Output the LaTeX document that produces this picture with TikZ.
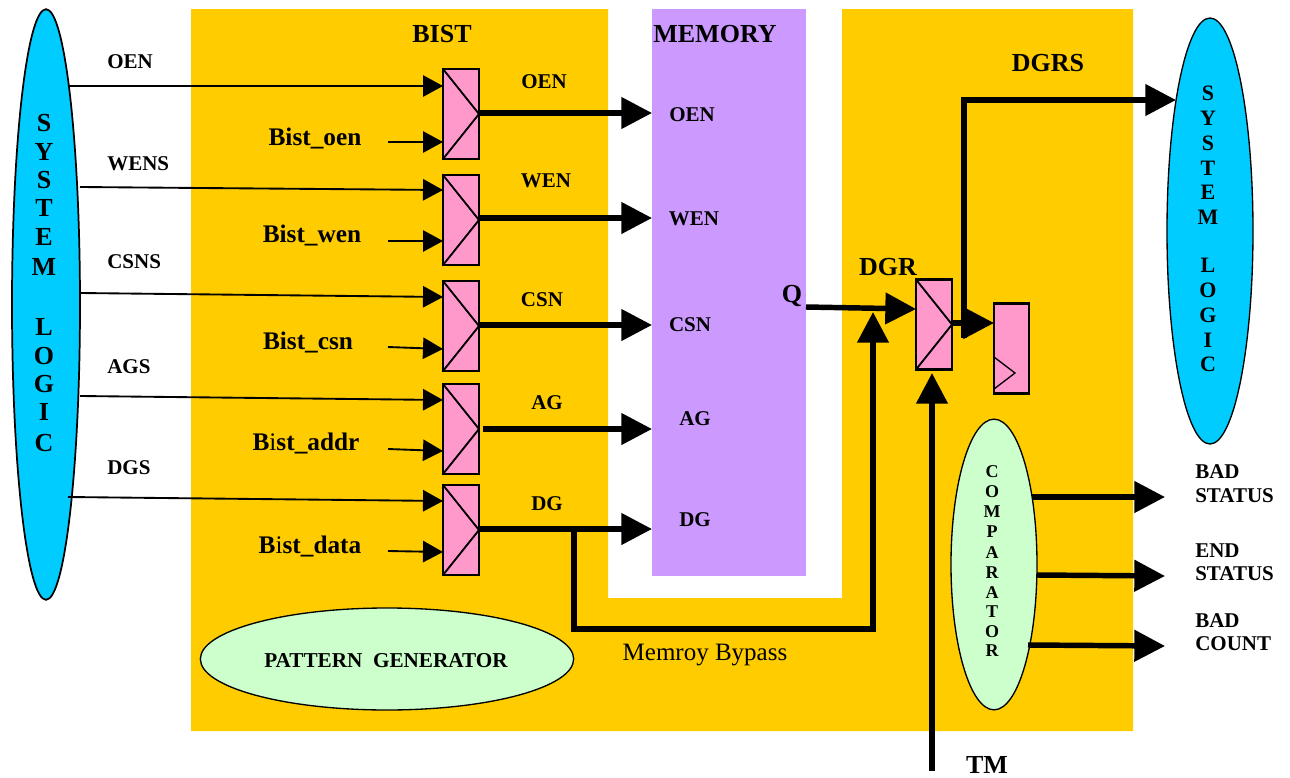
\documentclass[tikz,border=0pt]{standalone}
\usepackage{fontspec}
\setmainfont{Liberation Serif}
\usetikzlibrary{arrows.meta,shapes.geometric}
\definecolor{org}{RGB}{255,204,0}
\definecolor{purp}{RGB}{204,153,255}
\definecolor{cyanb}{RGB}{0,204,255}
\definecolor{pinkb}{RGB}{255,153,204}
\definecolor{mint}{RGB}{204,255,204}
\newcommand{\pxfont}[1]{\fontsize{\dimexpr #1pt*3/4\relax}{\dimexpr #1pt*9/10\relax}\selectfont}
\tikzset{
  mux/.style={draw=black,line width=1.6pt,fill=pinkb,minimum width=27pt,minimum height=67.5pt,inner sep=0,outer sep=0,
    path picture={\draw[line width=1.4pt] (path picture bounding box.north west)--(path picture bounding box.east)--(path picture bounding box.south west);}},
  ffbox/.style={draw=black,line width=1.6pt,fill=pinkb,minimum width=26pt,minimum height=67.5pt,inner sep=0,outer sep=0},
  thin wire/.style={line width=1.4pt,-{Triangle[length=15pt,width=16pt]}},
  thick wire/.style={line width=4.1pt,-{Triangle[length=23pt,width=23pt]}},
  lab/.style={font=\bfseries\pxfont{21},inner sep=0},
  big/.style={font=\bfseries\pxfont{26},inner sep=0},
  bistlab/.style={font=\bfseries\pxfont{25.3},inner sep=0},
  blob/.style={draw=black,line width=1pt,ellipse,inner sep=0,outer sep=0},
}
\begin{document}
\begin{tikzpicture}[x=0.75pt,y=-0.75pt]
\useasboundingbox (0,0) rectangle (1290,778);
\fill[white] (0,0) rectangle (1290,778);
% backgrounds
\fill[org] (191,9) -- (608,9) -- (608,598) -- (842,598) -- (842,9) -- (1133,9) -- (1133,731) -- (191,731) -- cycle;
\fill[purp] (652,9) rectangle (806,576);
% ellipses
\node[blob,line width=1.3pt,fill=cyanb,minimum width=51pt,minimum height=443pt] (sl) at (46,304.5) {};
\node[blob,fill=cyanb,minimum width=64.5pt,minimum height=319.5pt] (sr) at (1210,231) {};
\node[blob,fill=mint,minimum width=64.5pt,minimum height=218pt] (cmp) at (994,564.5) {};
\node[blob,fill=mint,minimum width=280pt,minimum height=76.5pt] (pg) at (387,659) {};
\node[font=\bfseries\pxfont{21.2},inner sep=0] (pgt) at (386,661) {PATTERN\ \ GENERATOR};
% mux
\node[mux] (m1) at (461,114) {};
\node[mux] (m2) at (461,220) {};
\node[mux] (m3) at (461,326) {};
\node[mux] (m4) at (461,429) {};
\node[mux] (m5) at (461,530) {};
\node[mux] (m6) at (934,324.5) {};
\node[ffbox] (ff) at (1011.5,348.5) {};
\draw[line width=1pt] (994,357) -- (1015,373) -- (994,389);
% free ends
\coordinate (a1) at (68,86);   \coordinate (a1e) at (m1.west |- 0,86);
\coordinate (a2) at (80,187);  \coordinate (a2e) at (m2.west |- 0,190);
\coordinate (a3) at (80,293);  \coordinate (a3e) at (m3.west |- 0,297);
\coordinate (a4) at (80,396);  \coordinate (a4e) at (m4.west |- 0,400);
\coordinate (a5) at (68,497);  \coordinate (a5e) at (m5.west |- 0,501);
\coordinate (b1) at (388,142); \coordinate (b1e) at (m1.west |- 0,142);
\coordinate (b2) at (388,241); \coordinate (b2e) at (m2.west |- 0,241);
\coordinate (b3) at (388,347); \coordinate (b3e) at (m3.west |- 0,349);
\coordinate (b4) at (388,449); \coordinate (b4e) at (m4.west |- 0,451);
\coordinate (b5) at (388,551); \coordinate (b5e) at (m5.west |- 0,552);
\draw[thin wire] (a1) -- (a1e);
\draw[thin wire] (a2) -- (a2e);
\draw[thin wire] (a3) -- (a3e);
\draw[thin wire] (a4) -- (a4e);
\draw[thin wire] (a5) -- (a5e);
\draw[thin wire] (b1) -- (b1e);
\draw[thin wire] (b2) -- (b2e);
\draw[thin wire] (b3) -- (b3e);
\draw[thin wire] (b4) -- (b4e);
\draw[thin wire] (b5) -- (b5e);
% memory ports
\node[lab] (poen) at (692,115) {OEN};
\node[lab] (pwen) at (694,219) {WEN};
\node[lab] (pcsn) at (690,325) {CSN};
\node[lab] (pag) at (695,419) {AG};
\node[lab] (pdg) at (695,520) {DG};
\coordinate (t1) at (652,113);
\coordinate (t2) at (652,218);
\coordinate (t3) at (652,325);
\coordinate (t4) at (652,429);
\coordinate (t5) at (652,529);
\draw[thick wire] (m1.east |- t1) -- (t1);
\draw[thick wire] (m2.east |- t2) -- (t2);
\draw[thick wire] (m3.east |- t3) -- (t3);
\draw[thick wire] (483,429) -- (t4);
\draw[thick wire] (m5.east |- t5) -- (t5);
% bypass
\coordinate (bp0) at (574,529);
\coordinate (bp3) at (873,312);
\draw[thick wire] (bp0) -- (574,629) -- (873,629) -- (bp3);
% Q
\coordinate (q) at (806,307);
\draw[thick wire] (q) -- (m6.west |- 0,309);
% TM
\coordinate (tm) at (932,771);
\draw[thick wire] (tm) -- (932,373);
% DGR out
\coordinate (ffi) at (994,323);
\draw[thick wire] (m6.east |- ffi) -- (ffi);
\coordinate (up) at (964,338);
\coordinate (sri) at (1176,100);
\draw[thick wire] (up) -- (964,100) -- (sri);
% comparator outs
\coordinate (o1) at (1165,497);
\coordinate (o2) at (1165,576);
\coordinate (o3) at (1165,646);
\draw[thick wire] (1032,497) -- (o1);
\draw[thick wire] (1037,575) -- (o2);
\draw[thick wire] (1028,645) -- (o3);
% titles
\node[big] (tbist) at (442,34) {BIST};
\node[big] (tmem) at (715,34) {MEMORY};
\node[big] (tdgrs) at (1048,63) {DGRS};
\node[big] (tdgr) at (888,267) {DGR};
\node[big] (tq) at (792,296) {Q};
\node[big] (ttm) at (987,765) {TM};
% left labels
\node[lab,anchor=west] (l1) at (107,62) {OEN};
\node[lab,anchor=west] (l2) at (107,163.5) {WENS};
\node[lab,anchor=west] (l3) at (107,262) {CSNS};
\node[lab,anchor=west] (l4) at (107,367) {AGS};
\node[lab,anchor=west] (l5) at (107,468) {DGS};
\node[bistlab] (b1t) at (315,138) {Bist\_oen};
\node[bistlab] (b2t) at (312,235) {Bist\_wen};
\node[bistlab] (b3t) at (308,342) {Bist\_csn};
\node[bistlab] (b4t) at (306,443) {B\textmd{i}st\_addr};
\node[bistlab] (b5t) at (310,546) {B\textmd{i}st\_data};
% mux output labels
\node[lab] (o1t) at (544,82) {OEN};
\node[lab] (o2t) at (546,181) {WEN};
\node[lab] (o3t) at (542,300) {CSN};
\node[lab] (o4t) at (547,403) {AG};
\node[lab] (o5t) at (547,504) {DG};
\node[font=\pxfont{25},inner sep=0] (byp) at (705,655) {Memroy Bypass};
% status
\node[lab,anchor=west,align=left] (s1) at (1195,483.5) {BAD\\[-1.25pt]STATUS};
\node[lab,anchor=west,align=left] (s2) at (1195,562) {END\\[-1.25pt]STATUS};
\node[lab,anchor=west,align=left] (s3) at (1195,632) {BAD\\[-1.25pt]COUNT};
% vertical text
\foreach \ch/\yy in {S/123,Y/152,S/180,T/208,E/237,M/267,L/327,O/356,G/384,I/412,C/443}
  \node[font=\bfseries\pxfont{26},inner sep=0] at (44,\yy) {\ch};
\foreach \ch/\yy in {S/93,Y/118,S/143,T/168,E/192,M/217,L/265,O/290,G/315,I/340,C/364}
  \node[font=\bfseries\pxfont{22},inner sep=0] at (1208,\yy) {\ch};
\foreach \ch/\yy in {C/472,O/492,M/512,P/532,A/553,R/573,A/593,T/612,O/632,R/651}
  \node[font=\bfseries\pxfont{18},inner sep=0] at (992,\yy) {\ch};
\end{tikzpicture}
\end{document}
